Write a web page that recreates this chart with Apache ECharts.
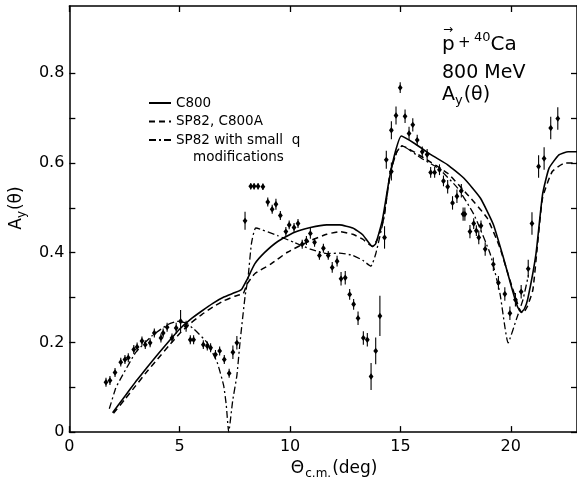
<!DOCTYPE html>
<html>
<head>
<meta charset="utf-8">
<script src="https://cdn.jsdelivr.net/npm/echarts@6/dist/echarts.min.js"></script>
<style>html,body{margin:0;padding:0;background:#fff;overflow:hidden}#c{width:577px;height:485px}</style>
</head>
<body>
<div id="c"></div>
<script>
// ---- axis ticks ----
const thetaTicks = [0, 5, 10, 15, 20];
const ayLabelTicks = [0, 0.2, 0.4, 0.6, 0.8];
const ayMinorTicks = [0, 0.1, 0.2, 0.3, 0.4, 0.5, 0.6, 0.7, 0.8];

// ---- measured data points (theta, Ay, error) ----
const dataTheta = [1.66,1.84,2.07,2.33,2.52,2.67,2.92,3.07,3.29,3.44,3.66,3.85,4.15,4.25,4.43,4.65,4.84,5.04,5.29,5.48,5.63,6.07,6.25,6.40,6.62,6.81,7.02,7.24,7.41,7.59,
  7.96,8.22,8.37,8.55,8.77,8.99,9.19,9.36,9.56,9.81,9.96,10.18,10.36,10.55,10.74,10.92,11.11,11.33,11.51,11.73,11.91,12.13,12.31,12.50,12.70,12.88,13.08,13.32,13.50,13.67,13.88,14.07,14.28,
  14.36,14.59,14.59,14.80,14.99,15.21,15.39,15.56,15.76,15.99,16.21,16.37,16.55,16.77,16.95,17.14,17.36,17.56,17.76,17.84,17.92,18.15,18.32,18.44,18.55,18.65,18.84,19.21,19.44,19.73,19.96,20.21,20.47,20.79,20.96,21.26,21.51,21.81,22.13];
const dataAy = [0.111,0.115,0.133,0.156,0.162,0.166,0.184,0.190,0.203,0.195,0.199,0.221,0.210,0.221,0.234,0.210,0.232,0.247,0.236,0.206,0.206,0.195,0.192,0.188,0.173,0.181,0.162,0.131,0.178,0.199,
  0.471,0.548,0.548,0.548,0.547,0.513,0.497,0.508,0.483,0.447,0.462,0.456,0.465,0.419,0.427,0.443,0.423,0.394,0.410,0.394,0.367,0.381,0.342,0.344,0.307,0.285,0.254,0.210,0.206,0.124,0.181,0.259,0.434,
  0.607,0.673,0.581,0.706,0.768,0.704,0.666,0.685,0.651,0.625,0.619,0.579,0.579,0.585,0.560,0.547,0.511,0.526,0.538,0.486,0.486,0.447,0.465,0.449,0.434,0.460,0.408,0.374,0.333,0.308,0.265,0.295,0.313,0.364,0.465,0.592,0.610,0.678,0.699];
const dataErr = [0.01,0.01,0.01,0.01,0.01,0.01,0.01,0.01,0.01,0.01,0.01,0.01,0.01,0.01,0.01,0.01,0.012,0.025,0.012,0.01,0.01,0.01,0.01,0.01,0.01,0.01,0.01,0.01,0.015,0.015,
  0.02,0.007,0.007,0.007,0.007,0.01,0.01,0.012,0.01,0.01,0.01,0.01,0.01,0.01,0.01,0.012,0.01,0.01,0.01,0.01,0.012,0.012,0.015,0.015,0.012,0.012,0.015,0.015,0.015,0.03,0.03,0.045,0.025,
  0.02,0.02,0.02,0.02,0.012,0.015,0.015,0.015,0.012,0.012,0.012,0.012,0.012,0.012,0.012,0.015,0.015,0.015,0.015,0.015,0.015,0.015,0.012,0.012,0.015,0.012,0.015,0.015,0.015,0.015,0.015,0.015,0.015,0.02,0.025,0.025,0.025,0.025,0.025];

// ---- model curves ----
const c800 = [[1.96,0.043],[2.5,0.079],[3.0,0.112],[3.5,0.143],[4.0,0.173],[4.5,0.202],[5.0,0.230],[5.5,0.252],[6.0,0.270],[6.5,0.287],[7.0,0.301],[7.5,0.311],[7.8,0.318],[8.05,0.340],[8.4,0.375],[8.84,0.400],[9.44,0.425],[10.18,0.445],[10.92,0.456],[11.66,0.462],[12.25,0.462],[12.84,0.455],[13.29,0.440],[13.73,0.414],[13.88,0.420],[14.18,0.472],[14.48,0.560],[14.77,0.625],[15.04,0.660],[15.66,0.643],[16.4,0.618],[17.14,0.596],[17.88,0.566],[18.62,0.522],[19.21,0.463],[19.66,0.390],[20.03,0.324],[20.3,0.280],[20.47,0.267],[20.62,0.275],[20.77,0.297],[21.14,0.397],[21.44,0.530],[21.73,0.588],[22.18,0.618],[22.6,0.625],[23.0,0.625]];
const sp82 = [[2.0,0.042],[2.5,0.072],[3.0,0.103],[3.5,0.134],[4.0,0.163],[4.5,0.192],[5.0,0.220],[5.5,0.243],[6.0,0.262],[6.5,0.279],[7.0,0.293],[7.5,0.303],[7.88,0.309],[8.05,0.330],[8.4,0.353],[9.14,0.375],[9.88,0.401],[10.92,0.427],[11.66,0.441],[12.25,0.447],[12.84,0.441],[13.29,0.430],[13.73,0.414],[13.96,0.430],[14.25,0.478],[14.55,0.581],[14.84,0.625],[15.07,0.638],[16.1,0.610],[17.14,0.577],[18.03,0.530],[18.92,0.478],[19.5,0.412],[19.96,0.339],[20.4,0.273],[20.55,0.265],[20.75,0.280],[21.0,0.317],[21.2,0.412],[21.44,0.522],[21.88,0.581],[22.47,0.600],[23.0,0.600]];
const sp82q = [[1.81,0.052],[1.88,0.063],[2.1,0.098],[2.4,0.126],[3.0,0.177],[3.73,0.214],[4.47,0.240],[4.9,0.247],[5.3,0.243],[5.66,0.229],[6.25,0.199],[6.7,0.155],[6.99,0.104],[7.11,0.060],[7.22,0.0],[7.4,0.070],[7.59,0.126],[7.73,0.199],[7.96,0.302],[8.1,0.346],[8.25,0.420],[8.45,0.455],[9.44,0.438],[10.18,0.423],[10.92,0.408],[11.66,0.398],[12.25,0.399],[12.84,0.394],[13.29,0.383],[13.66,0.370],[13.88,0.397],[14.25,0.478],[14.55,0.581],[14.84,0.625],[15.07,0.638],[15.96,0.610],[16.5,0.595],[16.84,0.583],[17.59,0.544],[18.32,0.486],[19.07,0.397],[19.51,0.309],[19.88,0.199],[20.25,0.251],[20.55,0.295],[20.8,0.350]];

const seriesNames = ['C800', 'SP82, C800A', 'SP82 with small  q'];

const FONT = 'DejaVu Sans';
const points = dataTheta.map((t, i) => [t, dataAy[i], dataErr[i]]);

const chart = echarts.init(document.getElementById('c'), null, {renderer: 'canvas'});
const axisLineStyle = {color: '#000', width: 1.5};
const tickStyle = {color: '#000', width: 1.3};
const option = {
  animation: false,
  backgroundColor: '#fff',
  grid: {left: 61, right: -1, top: 6, bottom: 48},
  legend: {
    orient: 'vertical', left: 143, top: 91,
    itemWidth: 22, itemHeight: 14, itemGap: 4.5,
    data: seriesNames,
    itemStyle: {opacity: 0},
    textStyle: {fontFamily: FONT, fontSize: 13.5, color: '#000'},
    selectedMode: false
  },
  xAxis: [{
    type: 'value', min: 0, max: 23, interval: 5, position: 'bottom',
    axisLine: {onZero: false, lineStyle: axisLineStyle},
    axisTick: {inside: true, length: 6, lineStyle: tickStyle, customValues: thetaTicks},
    axisLabel: {customValues: thetaTicks, margin: 7, fontFamily: FONT, fontSize: 16, color: '#000'},
    splitLine: {show: false},
    name: '{a|Θ}{s|c.m.}{a|(deg)}', nameLocation: 'middle', nameGap: 18,
    nameTextStyle: {padding: [0, 0, 0, 22], rich: {
      a: {fontFamily: FONT, fontSize: 17, color: '#000', lineHeight: 22, verticalAlign: 'middle'},
      s: {fontFamily: FONT, fontSize: 12, color: '#000', lineHeight: 22, verticalAlign: 'bottom', padding: [8, 1, 0, 1]}
    }}
  }, {
    type: 'value', min: 0, max: 23, interval: 5, position: 'top',
    axisLine: {onZero: false, lineStyle: axisLineStyle},
    axisTick: {inside: true, length: 6, lineStyle: tickStyle, customValues: thetaTicks},
    axisLabel: {show: false}, splitLine: {show: false}
  }],
  yAxis: [{
    type: 'value', min: 0, max: 0.95, interval: 0.1, position: 'left',
    axisLine: {onZero: false, lineStyle: axisLineStyle},
    axisTick: {inside: true, length: 6, lineStyle: tickStyle, customValues: ayMinorTicks},
    axisLabel: {customValues: ayLabelTicks, margin: 5, fontFamily: FONT, fontSize: 16, color: '#000',
      formatter: v => (Math.abs(v) < 1e-9 ? '0' : (Math.round(v * 10) / 10).toFixed(1))},
    splitLine: {show: false},
    name: '{a|A}{s|y}{a|(θ)}', nameLocation: 'middle', nameGap: 34, nameRotate: 90,
    nameTextStyle: {padding: [0, 0, 0, 22], rich: {
      a: {fontFamily: FONT, fontSize: 17, color: '#000', lineHeight: 22, verticalAlign: 'middle'},
      s: {fontFamily: FONT, fontSize: 12, color: '#000', lineHeight: 22, verticalAlign: 'bottom', padding: [8, 1, 0, 0]}
    }}
  }, {
    type: 'value', min: 0, max: 0.95, interval: 0.1, position: 'right',
    axisLine: {onZero: false, lineStyle: axisLineStyle},
    axisTick: {inside: true, length: 6, lineStyle: tickStyle, customValues: ayMinorTicks},
    axisLabel: {show: false}, splitLine: {show: false}
  }],
  graphic: [
    {type: 'text', left: 193, top: 150, style: {text: 'modifications', font: '13.5px "DejaVu Sans"', fill: '#000'}},
    {type: 'text', left: 443, top: 24, style: {text: '→', font: '12px "DejaVu Sans"', fill: '#000'}},
    {type: 'text', left: 442, top: 31, style: {
      text: '{p|p} {o|+} {u|40}{c|Ca}', rich: {
        p: {fontFamily: FONT, fontSize: 20, color: '#000', lineHeight: 24, verticalAlign: 'bottom'},
        o: {fontFamily: FONT, fontSize: 15, color: '#000', lineHeight: 24, verticalAlign: 'middle'},
        u: {fontFamily: FONT, fontSize: 13, color: '#000', lineHeight: 14, verticalAlign: 'top'},
        c: {fontFamily: FONT, fontSize: 20, color: '#000', lineHeight: 24, verticalAlign: 'bottom'}
      }}},
    {type: 'text', left: 442, top: 64, style: {text: '800 MeV', font: '19px "DejaVu Sans"', fill: '#000'}},
    {type: 'text', left: 442, top: 86, style: {
      text: '{a|A}{s|y}{a|(θ)}', rich: {
        a: {fontFamily: FONT, fontSize: 19, color: '#000', lineHeight: 24, verticalAlign: 'middle'},
        s: {fontFamily: FONT, fontSize: 13, color: '#000', lineHeight: 24, verticalAlign: 'bottom', padding: [8, 1, 0, 0]}
      }}}
  ],
  series: [
    {name: seriesNames[0], type: 'line', data: c800, showSymbol: false, symbol: 'none', smooth: 0.15,
      lineStyle: {color: '#000', width: 1.6, type: 'solid'}, itemStyle: {color: '#000'}},
    {name: seriesNames[1], type: 'line', data: sp82, showSymbol: false, symbol: 'none', smooth: 0.15,
      lineStyle: {color: '#000', width: 1.5, type: [6, 4]}, itemStyle: {color: '#000'}},
    {name: seriesNames[2], type: 'line', data: sp82q, showSymbol: false, symbol: 'none', smooth: 0.15,
      lineStyle: {color: '#000', width: 1.3, type: [7, 3, 2, 3]}, itemStyle: {color: '#000'}},
    {name: 'data', type: 'custom', data: points, z: 5,
      renderItem: function (params, api) {
        const x = api.value(0), y = api.value(1), e = api.value(2);
        const p = api.coord([x, y]);
        const hi = api.coord([x, y + e]);
        const lo = api.coord([x, y - e]);
        return {type: 'group', children: [
          {type: 'line', shape: {x1: p[0], y1: hi[1], x2: p[0], y2: lo[1]}, style: {stroke: '#000', lineWidth: 1.1}},
          {type: 'polygon', shape: {points: [[p[0], p[1] - 3.2], [p[0] + 2.4, p[1]], [p[0], p[1] + 3.2], [p[0] - 2.4, p[1]]]}, style: {fill: '#000'}}
        ]};
      }}
  ]
};
chart.setOption(option);
</script>
</body>
</html>
